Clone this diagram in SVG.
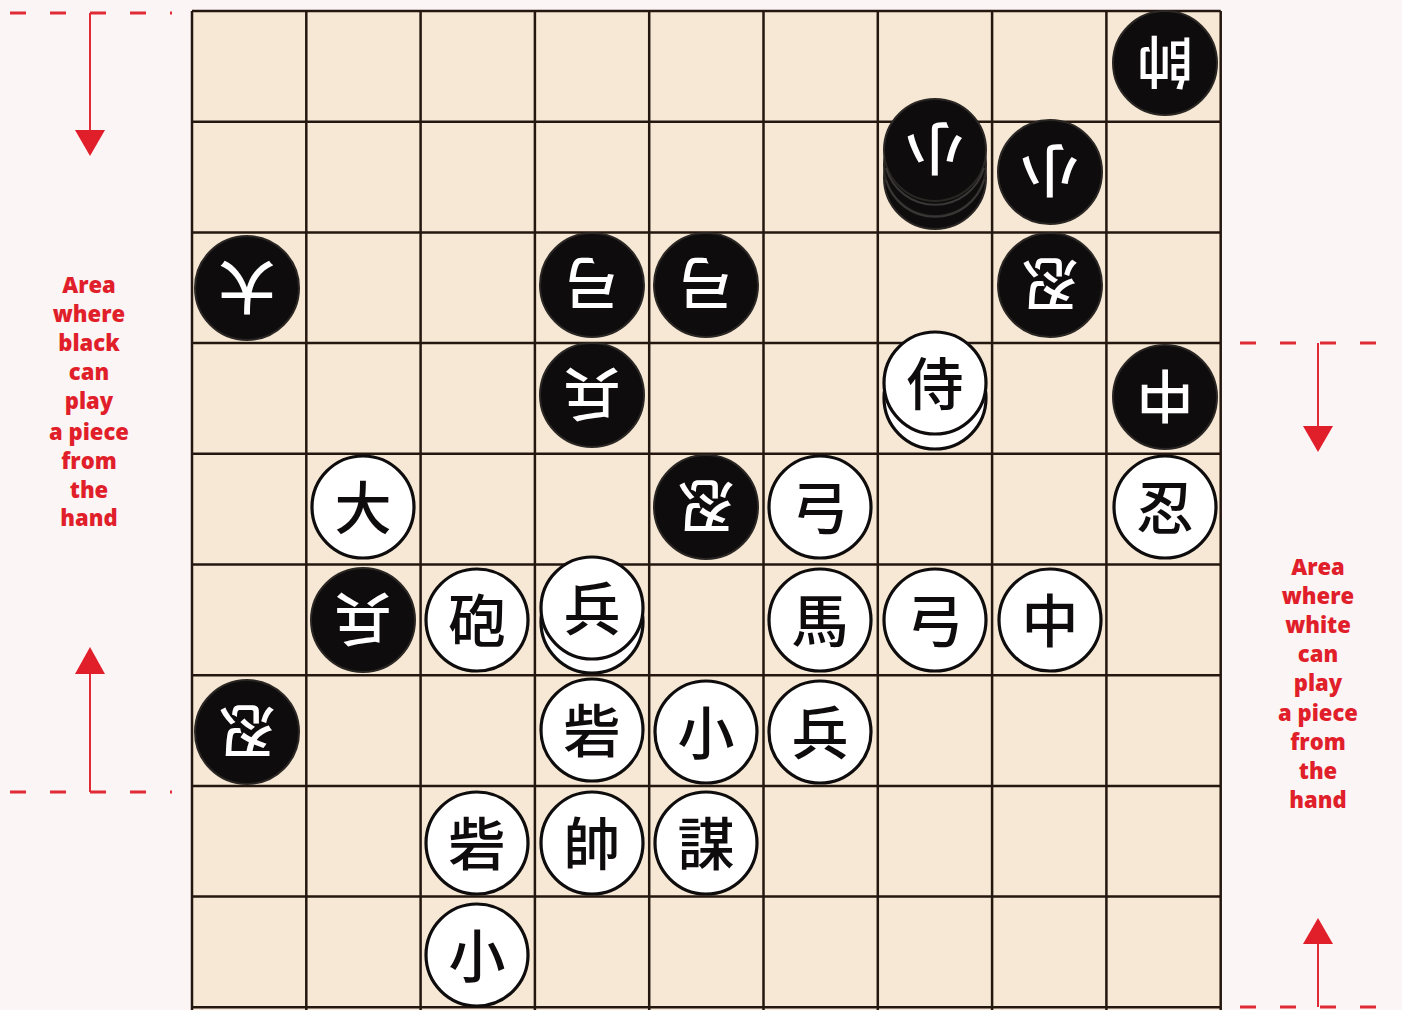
<svg xmlns="http://www.w3.org/2000/svg" width="1402" height="1010" viewBox="0 0 1402 1010">
<style>
.bg{fill:#fcf5f6}
.board{fill:#f6e8d4}
.grid{stroke:#24170f;stroke-width:2.5;fill:none}
.bp{fill:#0e0c0c;stroke:#2a2624;stroke-width:2}
.wp{fill:#ffffff;stroke:#0e0c0c;stroke-width:3.2}
.bl{stroke:#3a3636;stroke-width:2}
.bt{fill:#ffffff;font-family:"Noto Sans CJK JP","Noto Sans CJK SC",sans-serif;font-size:57px;font-weight:500;text-anchor:middle}
.wt{fill:#0e0c0c;font-family:"Noto Sans CJK JP","Noto Sans CJK SC",sans-serif;font-size:57px;font-weight:500;text-anchor:middle}
.lbl{fill:#e01f2b;font-family:"Open Sans","Liberation Sans",sans-serif;font-size:22px;font-weight:800;text-anchor:middle}
.dash{stroke:#e02a36;stroke-width:3;stroke-dasharray:16 24;fill:none}
.arr{stroke:#e02a36;stroke-width:2;fill:none}
.head{fill:#e01f2b}
</style>
<rect class="bg" x="0" y="0" width="1402" height="1010"/>
<g id="board">
<rect class="board" x="192" y="11" width="1029" height="1000"/>
<path class="grid" d="M192 11V1010M306.3 11V1010M420.6 11V1010M534.9 11V1010M649.2 11V1010M763.5 11V1010M877.8 11V1010M992.1 11V1010M1106.4 11V1010M1220.7 11V1010M192 11H1220.7M192 121.7H1220.7M192 232.4H1220.7M192 343.1H1220.7M192 453.8H1220.7M192 564.5H1220.7M192 675.2H1220.7M192 785.9H1220.7M192 896.6H1220.7M192 1007.3H1220.7"/>
</g>
<g id="connectors">
<path class="dash" d="M10 13H172"/>
<path class="arr" d="M90 13V132"/>
<path class="head" d="M75 130L105 130L90 156Z"/>
<path class="dash" d="M10 792H172"/>
<path class="arr" d="M90 792V672"/>
<path class="head" d="M75 674L105 674L90 647Z"/>
<path class="dash" d="M1240 343H1398"/>
<path class="arr" d="M1318 343V428"/>
<path class="head" d="M1303 426L1333 426L1318 452Z"/>
<path class="dash" d="M1240 1007H1398"/>
<path class="arr" d="M1318 1007V942"/>
<path class="head" d="M1303 944L1333 944L1318 918Z"/>
</g>
<g id="label-black">
<text class="lbl" x="89" y="293">Area</text>
<text class="lbl" x="89" y="322">where</text>
<text class="lbl" x="89" y="351">black</text>
<text class="lbl" x="89" y="380">can</text>
<text class="lbl" x="89" y="409">play</text>
<text class="lbl" x="89" y="440">a piece</text>
<text class="lbl" x="89" y="469">from</text>
<text class="lbl" x="89" y="498">the</text>
<text class="lbl" x="89" y="526">hand</text>
</g>
<g id="label-white">
<text class="lbl" x="1318" y="575">Area</text>
<text class="lbl" x="1318" y="604">where</text>
<text class="lbl" x="1318" y="633">white</text>
<text class="lbl" x="1318" y="662">can</text>
<text class="lbl" x="1318" y="691">play</text>
<text class="lbl" x="1318" y="721">a piece</text>
<text class="lbl" x="1318" y="750">from</text>
<text class="lbl" x="1318" y="779">the</text>
<text class="lbl" x="1318" y="808">hand</text>
</g>
<g id="b-shuai"><circle class="bp" cx="1165" cy="63" r="52"/><text class="bt" x="1165" y="85" transform="rotate(180 1165 63)">帥</text></g>
<g id="b-xiao-stack"><circle class="bp" cx="935" cy="178" r="51"/><circle class="bp" cx="935" cy="165" r="51"/><circle class="bp" cx="935" cy="150" r="51"/><path class="bl" d="M886 168A51 51 0 0 0 984 168M886 180A51 51 0 0 0 984 180" fill="none"/><text class="bt" x="935" y="172" transform="rotate(180 935 150)">小</text></g>
<g id="b-xiao"><circle class="bp" cx="1050" cy="172" r="52"/><text class="bt" x="1050" y="194" transform="rotate(180 1050 172)">小</text></g>
<g id="b-da"><circle class="bp" cx="247" cy="288" r="52"/><text class="bt" x="247" y="310" transform="rotate(180 247 288)">大</text></g>
<g id="b-gong-1"><circle class="bp" cx="592" cy="285" r="52"/><text class="bt" x="592" y="307" transform="rotate(180 592 285)">弓</text></g>
<g id="b-gong-2"><circle class="bp" cx="706" cy="285" r="52"/><text class="bt" x="706" y="307" transform="rotate(180 706 285)">弓</text></g>
<g id="b-ren-1"><circle class="bp" cx="1050" cy="285" r="52"/><text class="bt" x="1050" y="307" transform="rotate(180 1050 285)">忍</text></g>
<g id="b-bing-1"><circle class="bp" cx="592" cy="395" r="52"/><text class="bt" x="592" y="417" transform="rotate(180 592 395)">兵</text></g>
<g id="w-shi-stack"><circle class="wp" cx="935" cy="398" r="51"/><circle class="wp" cx="935" cy="383" r="51"/><text class="wt" x="935" y="405">侍</text></g>
<g id="b-zhong"><circle class="bp" cx="1165" cy="397" r="52"/><text class="bt" x="1165" y="419" transform="rotate(180 1165 397)">中</text></g>
<g id="w-da"><circle class="wp" cx="363" cy="507" r="51"/><text class="wt" x="363" y="529">大</text></g>
<g id="b-ren-2"><circle class="bp" cx="706" cy="507" r="52"/><text class="bt" x="706" y="529" transform="rotate(180 706 507)">忍</text></g>
<g id="w-gong-1"><circle class="wp" cx="820" cy="507" r="51"/><text class="wt" x="820" y="529">弓</text></g>
<g id="w-ren"><circle class="wp" cx="1165" cy="507" r="51"/><text class="wt" x="1165" y="529">忍</text></g>
<g id="b-bing-2"><circle class="bp" cx="363" cy="620" r="52"/><text class="bt" x="363" y="642" transform="rotate(180 363 620)">兵</text></g>
<g id="w-pao"><circle class="wp" cx="477" cy="620" r="51"/><text class="wt" x="477" y="642">砲</text></g>
<g id="w-bing-stack"><circle class="wp" cx="592" cy="622" r="51"/><circle class="wp" cx="592" cy="608" r="51"/><text class="wt" x="592" y="630">兵</text></g>
<g id="w-ma"><circle class="wp" cx="820" cy="620" r="51"/><text class="wt" x="820" y="642">馬</text></g>
<g id="w-gong-2"><circle class="wp" cx="935" cy="620" r="51"/><text class="wt" x="935" y="642">弓</text></g>
<g id="w-zhong"><circle class="wp" cx="1050" cy="620" r="51"/><text class="wt" x="1050" y="642">中</text></g>
<g id="b-ren-3"><circle class="bp" cx="247" cy="732" r="52"/><text class="bt" x="247" y="754" transform="rotate(180 247 732)">忍</text></g>
<g id="w-zhai-1"><circle class="wp" cx="592" cy="730" r="51"/><text class="wt" x="592" y="752">砦</text></g>
<g id="w-xiao-1"><circle class="wp" cx="706" cy="732" r="51"/><text class="wt" x="706" y="754">小</text></g>
<g id="w-bing"><circle class="wp" cx="820" cy="732" r="51"/><text class="wt" x="820" y="754">兵</text></g>
<g id="w-zhai-2"><circle class="wp" cx="477" cy="843" r="51"/><text class="wt" x="477" y="865">砦</text></g>
<g id="w-shuai"><circle class="wp" cx="592" cy="843" r="51"/><text class="wt" x="592" y="865">帥</text></g>
<g id="w-mou"><circle class="wp" cx="706" cy="843" r="51"/><text class="wt" x="706" y="865">謀</text></g>
<g id="w-xiao-2"><circle class="wp" cx="477" cy="955" r="51"/><text class="wt" x="477" y="977">小</text></g>
</svg>
